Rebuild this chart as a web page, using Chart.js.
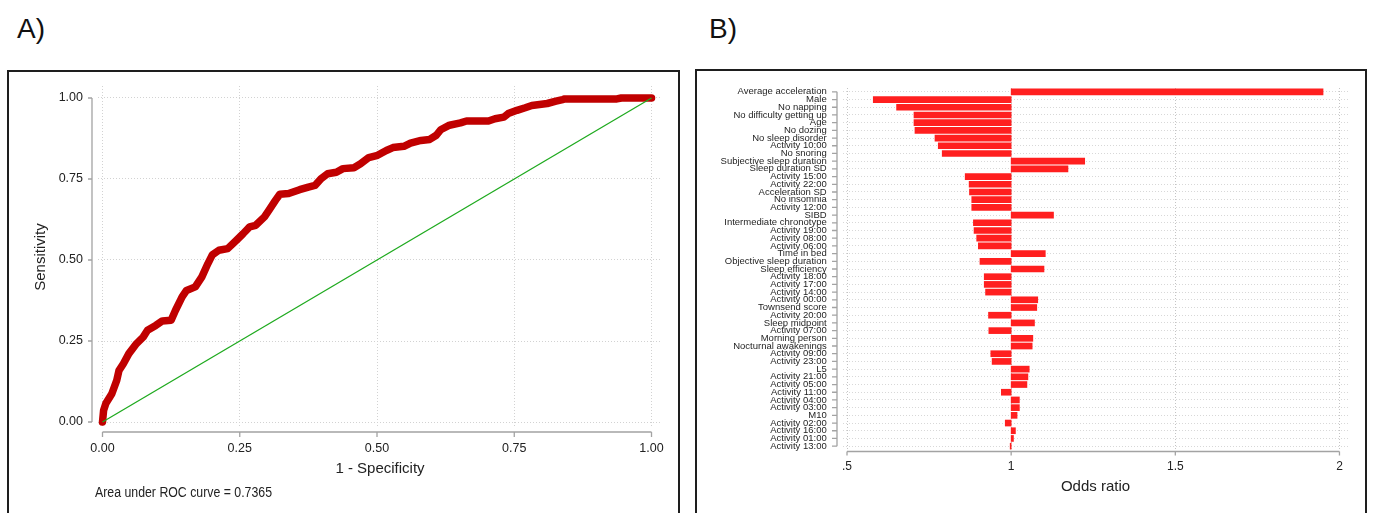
<!DOCTYPE html>
<html><head><meta charset="utf-8">
<script src="https://cdn.jsdelivr.net/npm/chart.js@4.4.1/dist/chart.umd.min.js"></script>
<style>
html,body{margin:0;padding:0;background:#fff;width:1375px;height:513px;overflow:hidden;position:relative;font-family:"Liberation Sans",Arial,sans-serif;}
.panel{position:absolute;border:2px solid #1e1e1e;box-sizing:border-box;}
#boxA{left:7px;top:70px;width:673px;height:470px;}
#boxB{left:695px;top:69px;width:672px;height:470px;}
.lab{position:absolute;font-size:28px;line-height:28px;color:#111;}
#auc{position:absolute;left:95px;top:484px;font-size:14px;line-height:16px;color:#222;transform:scaleX(0.88);transform-origin:left top;white-space:nowrap;}
canvas{position:absolute;top:0;}
#cA{left:0;}
#cB{left:690px;}
</style></head>
<body>
<div class="panel" id="boxA"></div>
<div class="panel" id="boxB"></div>
<div class="lab" style="left:17px;top:15px;">A)</div>
<div class="lab" style="left:709px;top:15px;">B)</div>
<canvas id="cA" width="690" height="513"></canvas>
<canvas id="cB" width="685" height="513"></canvas>
<div id="auc">Area under ROC curve = 0.7365</div>
<script>
// ---- Panel A: ROC curve ----
const rocFpr = [0, 0.002, 0.006, 0.017, 0.026, 0.030, 0.038, 0.048, 0.062, 0.074, 0.082, 0.097, 0.109, 0.125, 0.133, 0.145, 0.153, 0.169, 0.181, 0.192, 0.200, 0.212, 0.228, 0.244, 0.256, 0.268, 0.279, 0.295, 0.303, 0.315, 0.323, 0.339, 0.359, 0.375, 0.387, 0.398, 0.410, 0.426, 0.438, 0.458, 0.470, 0.485, 0.501, 0.517, 0.529, 0.549, 0.561, 0.580, 0.596, 0.608, 0.616, 0.632, 0.652, 0.663, 0.703, 0.715, 0.731, 0.739, 0.755, 0.770, 0.782, 0.810, 0.826, 0.838, 0.842, 0.937, 0.945, 1.000];
const rocTpr = [0, 0.036, 0.057, 0.087, 0.129, 0.159, 0.180, 0.211, 0.242, 0.262, 0.283, 0.298, 0.312, 0.314, 0.345, 0.386, 0.406, 0.417, 0.448, 0.489, 0.516, 0.530, 0.535, 0.561, 0.581, 0.602, 0.607, 0.633, 0.653, 0.684, 0.703, 0.705, 0.717, 0.725, 0.730, 0.751, 0.766, 0.771, 0.782, 0.785, 0.797, 0.816, 0.823, 0.838, 0.847, 0.851, 0.861, 0.869, 0.872, 0.885, 0.902, 0.916, 0.923, 0.929, 0.929, 0.936, 0.941, 0.952, 0.962, 0.970, 0.977, 0.983, 0.990, 0.995, 0.997, 0.997, 1.000, 1.000];
const refLine = [0, 1];
const rocTicks = [0, 0.25, 0.5, 0.75, 1];
const rocTickLabels = ['0.00', '0.25', '0.50', '0.75', '1.00'];

// ---- Panel B: odds ratios ----
const factors = ['Average acceleration','Male','No napping','No difficulty getting up','Age','No dozing','No sleep disorder','Activity 10:00','No snoring','Subjective sleep duration','Sleep duration SD','Activity 15:00','Activity 22:00','Acceleration SD','No insomnia','Activity 12:00','SIBD','Intermediate chronotype','Activity 19:00','Activity 08:00','Activity 06:00','Time in bed','Objective sleep duration','Sleep efficiency','Activity 18:00','Activity 17:00','Activity 14:00','Activity 00:00','Townsend score','Activity 20:00','Sleep midpoint','Activity 07:00','Morning person','Nocturnal awakenings','Activity 09:00','Activity 23:00','L5','Activity 21:00','Activity 05:00','Activity 11:00','Activity 04:00','Activity 03:00','M10','Activity 02:00','Activity 16:00','Activity 01:00','Activity 13:00'];
const oddsRatios = [1.95, 0.580, 0.651, 0.704, 0.704, 0.707, 0.768, 0.778, 0.790, 1.224, 1.173, 0.860, 0.872, 0.873, 0.880, 0.880, 1.129, 0.885, 0.887, 0.895, 0.900, 1.104, 0.905, 1.100, 0.918, 0.918, 0.922, 1.081, 1.078, 0.931, 1.071, 0.932, 1.066, 1.064, 0.938, 0.942, 1.055, 1.051, 1.048, 0.970, 1.025, 1.025, 1.018, 0.982, 1.013, 1.007, 0.997];
const orBase = 1;
const orTicks = [0.5, 1, 1.5, 2];
const orTickLabels = ['.5', '1', '1.5', '2'];

Chart.defaults.font.family = '"Liberation Sans", Arial, sans-serif';
Chart.defaults.color = '#222';

function stataAxes(cfg) {
  return {
    id: 'stataAxes',
    afterDraw(chart) {
      const {ctx, chartArea: a, scales: {x, y}} = chart;
      ctx.save();
      ctx.strokeStyle = '#a3a3a3';
      ctx.lineWidth = 1.3;
      ctx.beginPath();
      const yx = a.left - cfg.yGap;
      ctx.moveTo(yx, y.getPixelForValue(cfg.yFirst));
      ctx.lineTo(yx, y.getPixelForValue(cfg.yLast));
      cfg.yTicks.forEach(v => { const p = y.getPixelForValue(v); ctx.moveTo(yx, p); ctx.lineTo(yx - cfg.yTickLen, p); });
      const xy = a.bottom + cfg.xGap;
      ctx.moveTo(x.getPixelForValue(cfg.xFirst), xy);
      ctx.lineTo(x.getPixelForValue(cfg.xLast), xy);
      cfg.xTicks.forEach(v => { const p = x.getPixelForValue(v); ctx.moveTo(p, xy); ctx.lineTo(p, xy + cfg.xTickLen); });
      ctx.stroke();
      ctx.restore();
    }
  };
}

new Chart(document.getElementById('cA'), {
  type: 'scatter',
  data: {
    datasets: [
      { data: refLine.map(v => ({x: v, y: v})), showLine: true, borderColor: '#1faa1f', borderWidth: 1.3, pointRadius: 0 },
      { data: rocFpr.map((v, i) => ({x: v, y: rocTpr[i]})), showLine: true, borderColor: '#c00000', borderWidth: 7.5, pointRadius: 0, borderCapStyle: 'round', borderJoinStyle: 'round' }
    ]
  },
  options: {
    responsive: false, animation: false, events: [],
    layout: { padding: { left: 0, top: 86, right: 28, bottom: 0 } },
    plugins: { legend: { display: false }, tooltip: { enabled: false } },
    scales: {
      x: {
        type: 'linear', min: -0.0082, max: 1.0191,
        afterBuildTicks: s => { s.ticks = rocTicks.map(v => ({value: v})); },
        afterFit: s => { s.height = 85; },
        ticks: { callback: v => rocTickLabels[rocTicks.indexOf(v)], font: { size: 12.5 }, padding: 13, maxRotation: 0, autoSkip: false, color: '#222' },
        grid: { color: '#d2d2d2', drawTicks: false, lineWidth: 1, borderDash: [1, 2] },
        border: { display: false, dash: [1, 2] },
        title: { display: true, text: '1 - Specificity', font: { size: 15 }, padding: { top: 0, bottom: 35.5 }, color: '#222' }
      },
      y: {
        type: 'linear', min: -0.0185, max: 1.037,
        afterBuildTicks: s => { s.ticks = rocTicks.map(v => ({value: v})); },
        afterFit: s => { s.width = 98; },
        ticks: { callback: v => rocTickLabels[rocTicks.indexOf(v)], font: { size: 12.5 }, padding: 15, autoSkip: false, color: '#222' },
        grid: { color: '#d2d2d2', drawTicks: false, lineWidth: 1, borderDash: [1, 2] },
        border: { display: false, dash: [1, 2] },
        title: { display: true, text: 'Sensitivity', font: { size: 15 }, padding: { top: 31.5, bottom: 0 }, color: '#222' }
      }
    }
  },
  plugins: [stataAxes({ yGap: 6, yTickLen: 4, yFirst: 0, yLast: 1, yTicks: rocTicks, xGap: 4, xTickLen: 5, xFirst: 0, xLast: 1, xTicks: rocTicks })]
});

new Chart(document.getElementById('cB'), {
  type: 'bar',
  data: {
    labels: factors,
    datasets: [{ data: oddsRatios.map(v => [orBase, v]), backgroundColor: '#ff1f1f', borderWidth: 0, barThickness: 6 }]
  },
  options: {
    indexAxis: 'y',
    responsive: false, animation: false, events: [],
    layout: { padding: { left: 0, top: 88, right: 27, bottom: 0 } },
    plugins: { legend: { display: false }, tooltip: { enabled: false } },
    scales: {
      x: {
        type: 'linear', min: 0.4878, max: 2.026,
        afterBuildTicks: s => { s.ticks = orTicks.map(v => ({value: v})); },
        afterFit: s => { s.height = 63; },
        ticks: { callback: v => orTickLabels[orTicks.indexOf(v)], font: { size: 12 }, padding: 9.5, maxRotation: 0, autoSkip: false, color: '#222' },
        grid: { color: '#c4c4c4', drawTicks: false, lineWidth: 1, borderDash: [1, 2] },
        border: { display: false, dash: [1, 2] },
        title: { display: true, text: 'Odds ratio', font: { size: 15 }, padding: { top: 0, bottom: 17.3 }, color: '#222' }
      },
      y: {
        type: 'category',
        afterFit: s => { s.width = 153; },
        ticks: { autoSkip: false, font: { size: 9.5 }, padding: 16.3, color: '#1e1e1e' },
        grid: { color: '#d8d8d8', drawTicks: false, offset: false, lineWidth: 1, borderDash: [1, 2] },
        border: { display: false, dash: [1, 2] }
      }
    }
  },
  plugins: [stataAxes({ yGap: 6, yTickLen: 5, yFirst: 0, yLast: factors.length - 1, yTicks: factors.map((f, i) => i), xGap: 1.5, xTickLen: 4, xFirst: 0.5, xLast: 2, xTicks: orTicks })]
});
</script>
</body></html>
